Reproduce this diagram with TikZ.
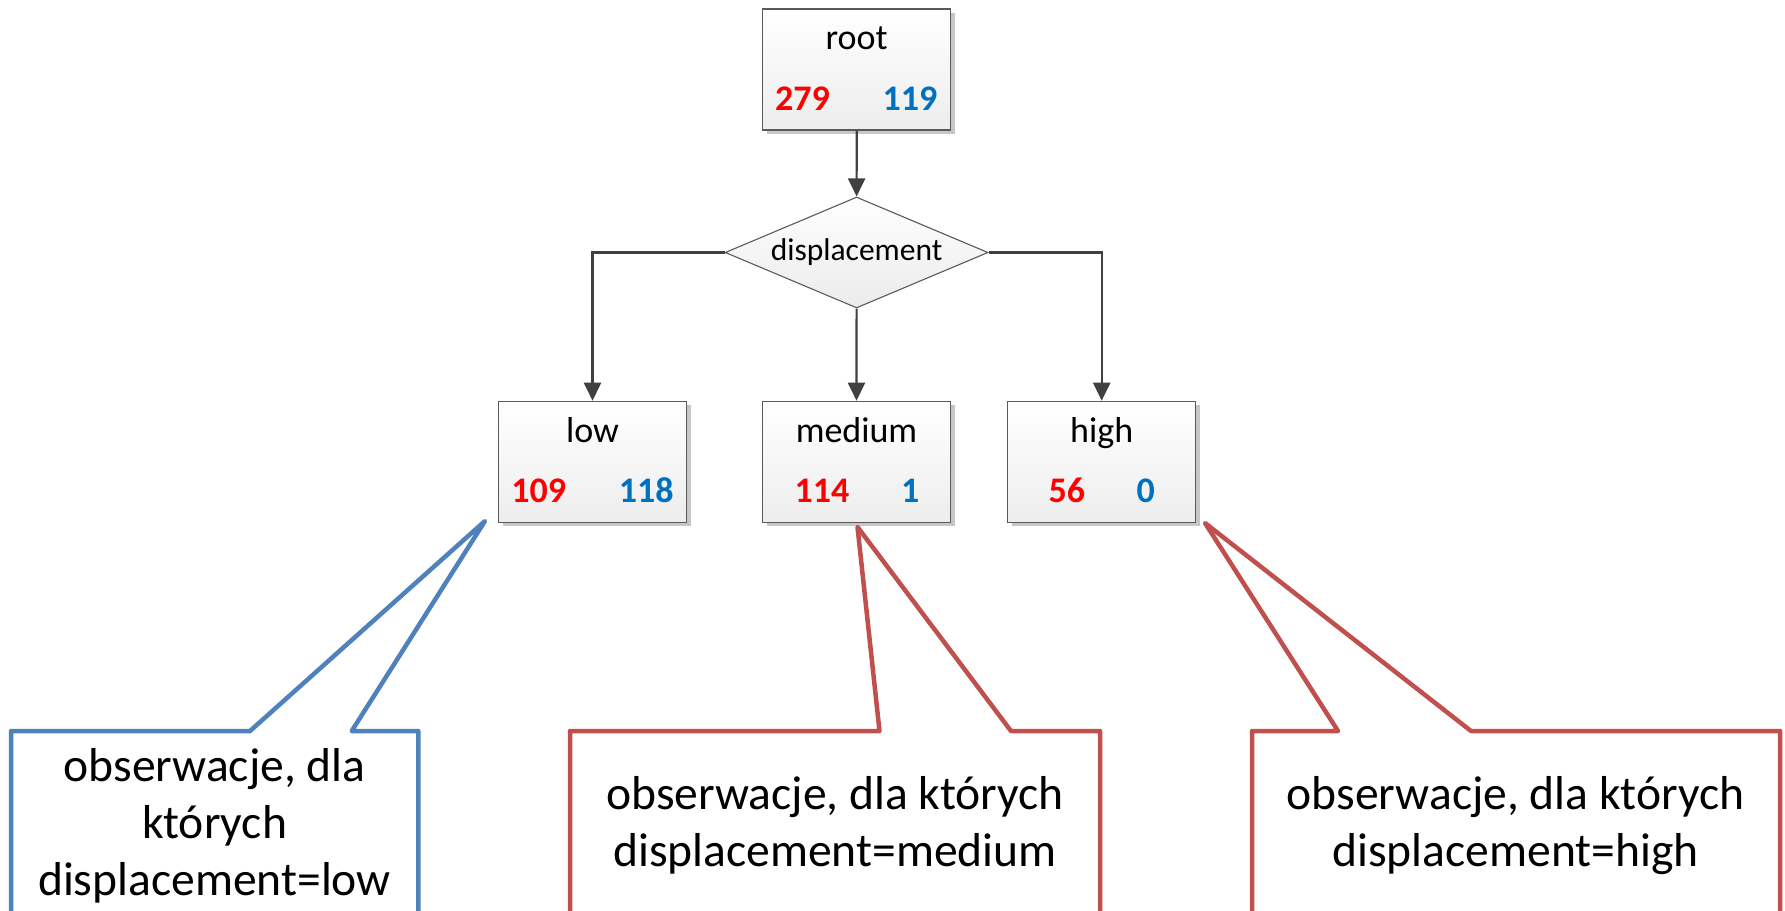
\documentclass[tikz,border=0pt]{standalone}
\usepackage{fontspec}
\setmainfont{Carlito}
\usetikzlibrary{arrows.meta,shapes.geometric,shadows}

\definecolor{edgegray}{HTML}{404040}
\definecolor{boxline}{HTML}{5A5A5A}
\definecolor{numred}{HTML}{FF0000}
\definecolor{numblue}{HTML}{0070C0}
\definecolor{calloutblue}{HTML}{4F81BD}
\definecolor{calloutred}{HTML}{C0504D}

\tikzset{
  treebox/.style={draw=boxline, line width=1.3pt, top color=white, bottom color=black!7,
    minimum width=188pt, minimum height=121pt, inner sep=0pt, anchor=north,
    drop shadow={shadow xshift=4pt, shadow yshift=-4pt, fill=black!22, opacity=1}},
  splitbox/.style={diamond, aspect=2.37, draw=boxline, line width=1.1pt, top color=white, bottom color=black!8,
    minimum width=263pt, minimum height=111pt, inner sep=0pt,
    font=\fontsize{31.5}{38}\selectfont},
  titletext/.style={anchor=base, inner sep=0pt, font=\fontsize{36}{43}\selectfont},
  leftnum/.style={anchor=base, inner sep=0pt, text=numred, font=\fontsize{36}{43}\selectfont\bfseries},
  rightnum/.style={anchor=base, inner sep=0pt, text=numblue, font=\fontsize{36}{43}\selectfont\bfseries},
  flow/.style={draw=edgegray, line width=2.2pt, -{Triangle[length=18pt,width=17pt]}},
  callout/.style={line width=4.5pt, line join=round, fill=white},
  callouttext/.style={anchor=base, inner sep=0pt, font=\fontsize{47.6}{57}\selectfont},
}

\begin{document}
\begin{tikzpicture}[x=1pt, y=-1pt]
  \useasboundingbox (0,0) rectangle (1785,910);
  \clip (0,0) rectangle (1785,910);
  \fill[white] (0,0) rectangle (1785,910);

  % tree nodes
  \node[treebox] (root) at (856.7,8.3) {};
  \node[titletext] (roott) at (856.7,49.8) {root};
  \node[leftnum] (rootl) at (802.5,110.3) {279};
  \node[rightnum] (rootr) at (910,110.3) {119};

  \node[splitbox] (split) at (856.6,252.5) {displacement};

  \node[treebox] (low) at (592.5,400.7) {};
  \node[titletext] (lowt) at (592.5,442.2) {low};
  \node[leftnum] (lowl) at (538.8,502.7) {109};
  \node[rightnum] (lowr) at (646.3,502.7) {118};

  \node[treebox] (med) at (856.5,400.7) {};
  \node[titletext] (medt) at (856.5,442.2) {medium};
  \node[leftnum] (medl) at (822,502.7) {114};
  \node[rightnum] (medr) at (910.2,502.7) {1};

  \node[treebox] (high) at (1101.7,400.7) {};
  \node[titletext] (hight) at (1101.7,442.2) {high};
  \node[leftnum] (highl) at (1066.8,502.7) {56};
  \node[rightnum] (highr) at (1145.8,502.7) {0};

  % connectors
  \draw[flow] (root.south) -- (split.north);
  \draw[flow] (split.west) -| (low.north);
  \draw[flow] (split.south) -- (med.north);
  \draw[flow] (split.east) -| (high.north);

  % callouts
  \coordinate (lowtip) at (485,521);
  \coordinate (medtip) at (857.5,527);
  \coordinate (hightip) at (1205,523);

  \draw[callout, draw=calloutblue] (11,925) -- (11,731) -- (250,731) -- (lowtip)
    -- (351.7,731) -- (418.3,731) -- (418.3,925) -- cycle;
  \node[callouttext] (lowa) at (214.5,781.5) {obserwacje, dla};
  \node[callouttext] (lowb) at (214.5,838.3) {których};
  \node[callouttext] (lowc) at (214.5,895.1) {displacement=low};

  \draw[callout, draw=calloutred] (570,925) -- (570,731) -- (879.5,731) -- (medtip)
    -- (1011,731) -- (1100,731) -- (1100,925) -- cycle;
  \node[callouttext] (meda) at (835,809.5) {obserwacje, dla których};
  \node[callouttext] (medb) at (835,866.7) {displacement=medium};

  \draw[callout, draw=calloutred] (1252,925) -- (1252,731) -- (1338,731) -- (hightip)
    -- (1471,731) -- (1780,731) -- (1780,925) -- cycle;
  \node[callouttext] (higha) at (1515.5,809.5) {obserwacje, dla których};
  \node[callouttext] (highb) at (1515.5,866.7) {displacement=high};
\end{tikzpicture}
\end{document}
